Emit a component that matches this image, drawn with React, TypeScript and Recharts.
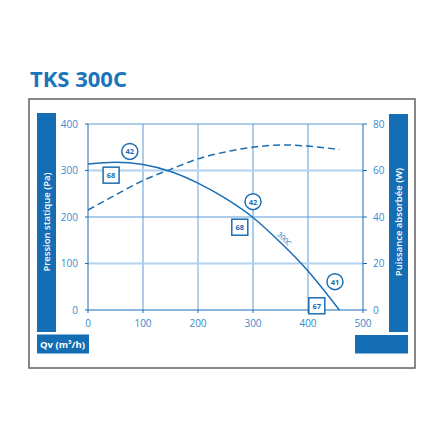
import React from 'react';
import { ComposedChart, Line, XAxis, YAxis, ReferenceLine, ReferenceDot } from 'recharts';

// fan curve TKS 300C
const qv = [0, 50, 100, 150, 200, 250, 300, 350, 400, 457];
const pressure = [314, 318, 313, 298, 273, 240, 199, 145, 84, 0];
const power = [43, 49.5, 55.7, 60.5, 65, 68, 70, 71, 70.5, 69];

const qvTicks = [0, 100, 200, 300, 400, 500];
const paTicks = [0, 100, 200, 300, 400];
const wTicks = [0, 20, 40, 60, 80];

// sound level tags along the curve
const circleQv = [76, 300, 449];
const circlePa = [341, 233, 61];
const circleText = ['42', '42', '41'];
const squareQv = [42, 276, 416];
const squarePa = [290, 178, 9];
const squareText = ['68', '68', '67'];

const curveName = '300C';
const curveNameQv = 357;
const curveNamePa = 153;

const BLUE = '#1a6db3';
const BAR = '#156db3';
const TICK = '#3a8ad0';
const GRID = '#5b9bd5';
const GRID_LIGHT = '#b3d2ed';
const FONT = '"Open Sans", sans-serif';

const data = qv.map((q, i) => ({ qv: q, pressure: pressure[i], power: power[i] }));

const tickStyle = { fill: TICK, fontSize: 10, fontFamily: FONT };

const CircleTag = ({ cx, cy, text }: any) => (
  <g>
    <circle cx={cx} cy={cy} r={8} fill="#fff" stroke={BLUE} strokeWidth={1.5} />
    <text x={cx} y={cy} textAnchor="middle" dominantBaseline="central" fill={BLUE}
      fontSize={7.5} fontWeight={700} fontFamily={FONT}>{text}</text>
  </g>
);

const SquareTag = ({ cx, cy, text }: any) => (
  <g>
    <rect x={cx - 8} y={cy - 8} width={16} height={16} fill="#fff" stroke={BLUE} strokeWidth={1.5} />
    <text x={cx} y={cy} textAnchor="middle" dominantBaseline="central" fill={BLUE}
      fontSize={7.5} fontWeight={700} fontFamily={FONT}>{text}</text>
  </g>
);

const App = () => {
  const vGrid = [100, 200, 300, 400];
  const hGrid = [100, 200, 300, 400];
  const lightX = (v: number) => v === 200;
  const lightY = (v: number) => v === 100 || v === 300;

  return (
    <div style={{ position: 'absolute', left: 0, top: 0, width: 440, height: 440, background: '#fff' }}>
      <svg width={440} height={440} style={{ position: 'absolute', left: 0, top: 0 }}>
        <text x={30} y={87} fontSize={22} fontWeight={700} fill="#1b75bb" fontFamily={FONT}>TKS 300C</text>
        <rect x={29} y={99} width={386} height={269} fill="none" stroke="#606060" strokeWidth={1.5} />
        <rect x={37} y={113} width={19} height={219} fill={BAR} />
        <text x={0} y={0} transform="translate(46.5,222) rotate(-90)" textAnchor="middle" dominantBaseline="central"
          fill="#fff" fontSize={9.5} fontWeight={600} fontFamily={FONT}>Pression statique (Pa)</text>
        <rect x={389} y={114} width={19} height={218} fill={BAR} />
        <text x={0} y={0} transform="translate(398.5,222) rotate(-90)" textAnchor="middle" dominantBaseline="central"
          fill="#fff" fontSize={9.5} fontWeight={600} fontFamily={FONT}>Puissance absorbée (W)</text>
        <rect x={37} y={334.5} width={52} height={19} fill={BAR} />
        <text x={40} y={347.5} fill="#fff" fontSize={9.5} fontWeight={700} fontFamily={FONT}>Qv (m³/h)</text>
        <rect x={355} y={335} width={53} height={18.5} fill={BAR} />
      </svg>
      <div style={{ position: 'absolute', left: 0, top: 0 }}>
        <ComposedChart width={440} height={440} data={data} margin={{ top: 124, right: 0, bottom: 100, left: 0 }}>
          <XAxis dataKey="qv" type="number" domain={[0, 500]} ticks={qvTicks} interval={0}
            axisLine={{ stroke: BLUE }} tickLine={{ stroke: BLUE }} tickSize={3} tickMargin={7}
            tick={tickStyle} height={30} />
          <YAxis yAxisId="p" orientation="left" domain={[0, 400]} ticks={paTicks} interval={0}
            axisLine={{ stroke: BLUE }} tickLine={{ stroke: BLUE }} tickSize={3} tickMargin={7}
            tick={tickStyle} width={88} />
          <YAxis yAxisId="w" orientation="right" domain={[0, 80]} ticks={wTicks} interval={0}
            axisLine={{ stroke: BLUE }} tickLine={{ stroke: BLUE }} tickSize={4} tickMargin={6}
            tick={{ ...tickStyle, textAnchor: 'start' }} width={77} />
          {vGrid.map((v) => (
            <ReferenceLine key={'vx' + v} yAxisId="p" x={v} stroke={lightX(v) ? GRID_LIGHT : GRID}
              strokeWidth={lightX(v) ? 2 : 1} />
          ))}
          {hGrid.map((v) => (
            <ReferenceLine key={'hy' + v} yAxisId="p" y={v} stroke={lightY(v) ? GRID_LIGHT : GRID}
              strokeWidth={lightY(v) ? 2 : 1} />
          ))}
          <Line yAxisId="p" dataKey="pressure" type="monotone" stroke={BLUE} strokeWidth={1.5}
            dot={false} isAnimationActive={false} />
          <Line yAxisId="w" dataKey="power" type="monotone" stroke={BLUE} strokeWidth={1.5}
            strokeDasharray="7 4" dot={false} isAnimationActive={false} />
          {circleQv.map((q, i) => (
            <ReferenceDot key={'c' + i} yAxisId="p" x={q} y={circlePa[i]} r={8}
              shape={(p: any) => <CircleTag cx={p.cx} cy={p.cy} text={circleText[i]} />} />
          ))}
          {squareQv.map((q, i) => (
            <ReferenceDot key={'s' + i} yAxisId="p" x={q} y={squarePa[i]} r={8}
              shape={(p: any) => <SquareTag cx={p.cx} cy={p.cy} text={squareText[i]} />} />
          ))}
          <ReferenceDot yAxisId="p" x={curveNameQv} y={curveNamePa} r={1}
            shape={(p: any) => (
              <text x={0} y={0} transform={`translate(${p.cx},${p.cy}) rotate(46)`} textAnchor="middle"
                dominantBaseline="central" fill={BLUE} fontSize={7} fontFamily={FONT}>{curveName}</text>
            )} />
        </ComposedChart>
      </div>
    </div>
  );
};

export default App;
